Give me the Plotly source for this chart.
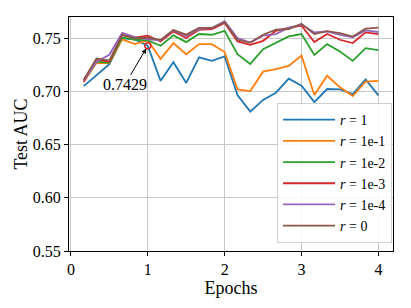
import plotly.graph_objects as go

steps = [k / 6 for k in range(1, 25)]

r_1 = [0.705, 0.715, 0.7256, 0.750, 0.749, 0.7429, 0.710, 0.7275, 0.708, 0.732, 0.7287, 0.733,
       0.6966, 0.681, 0.692, 0.6988, 0.712, 0.7054, 0.690, 0.7023, 0.702, 0.6975, 0.7114, 0.6963]
r_1e1 = [0.709, 0.727, 0.7266, 0.749, 0.7445, 0.748, 0.7306, 0.7455, 0.735, 0.7445, 0.7445, 0.737,
         0.702, 0.7004, 0.7186, 0.7209, 0.724, 0.7337, 0.6966, 0.7148, 0.7039, 0.6957, 0.7092, 0.710]
r_1e2 = [0.711, 0.728, 0.727, 0.7508, 0.7486, 0.748, 0.743, 0.7527, 0.7464, 0.754, 0.7533, 0.757,
         0.7351, 0.7259, 0.7398, 0.746, 0.7517, 0.754, 0.7344, 0.7445, 0.7375, 0.7287, 0.7407, 0.7388]
r_1e3 = [0.709, 0.730, 0.728, 0.7533, 0.7506, 0.7524, 0.747, 0.7564, 0.7502, 0.758, 0.7587, 0.7644,
         0.747, 0.7439, 0.7476, 0.757, 0.7597, 0.7618, 0.7464, 0.754, 0.7486, 0.7455, 0.7555, 0.754]
r_1e4 = [0.710, 0.728, 0.7345, 0.755, 0.751, 0.749, 0.748, 0.7575, 0.7524, 0.7587, 0.7597, 0.766,
         0.7502, 0.746, 0.7524, 0.754, 0.760, 0.7628, 0.7555, 0.7565, 0.7533, 0.751, 0.7574, 0.7559]
r_0 = [0.711, 0.731, 0.729, 0.753, 0.750, 0.7505, 0.7485, 0.7577, 0.7534, 0.7597, 0.7597, 0.765,
       0.7486, 0.746, 0.7533, 0.758, 0.7587, 0.7637, 0.754, 0.7567, 0.7549, 0.7516, 0.759, 0.760]

series = [
    ("<i>r</i> = 1", r_1, "#1f77b4"),
    ("<i>r</i> = 1e-1", r_1e1, "#ff7f0e"),
    ("<i>r</i> = 1e-2", r_1e2, "#2ca02c"),
    ("<i>r</i> = 1e-3", r_1e3, "#d62728"),
    ("<i>r</i> = 1e-4", r_1e4, "#9467bd"),
    ("<i>r</i> = 0", r_0, "#8c564b"),
]

best_x = 1.0
best_y = 0.7429
best_label = "0.7429"

x_ticks = [0, 1, 2, 3, 4]
y_ticks = [0.55, 0.60, 0.65, 0.70, 0.75]

FONT = "Liberation Serif"

fig = go.Figure()
for name, vals, col in series:
    fig.add_trace(go.Scatter(x=steps, y=vals, mode="lines", name=name,
                             line=dict(color=col, width=1.8)))

fig.add_trace(go.Scatter(x=[best_x], y=[best_y], mode="markers", showlegend=False,
                         marker=dict(symbol="circle-open", color="#d62728", size=6,
                                     line=dict(width=1.5, color="#d62728"))))

fig.add_annotation(x=best_x, y=best_y, ax=-23, ay=39, axref="pixel", ayref="pixel",
                   text=best_label, showarrow=True, arrowhead=2, arrowsize=1,
                   arrowwidth=1, arrowcolor="black", standoff=3,
                   font=dict(family=FONT, size=16, color="black"))

axis_common = dict(showline=True, linecolor="black", linewidth=1, mirror=True,
                   showgrid=True, gridcolor="#c8c8c8", gridwidth=1, zeroline=False,
                   ticks="outside", ticklen=4, tickcolor="black", automargin=False,
                   tickfont=dict(family=FONT, size=16, color="black"))

fig.update_xaxes(range=[-0.025, 4.19], tickvals=x_ticks, ticktext=[str(v) for v in x_ticks],
                 title=dict(text="Epochs", font=dict(family=FONT, size=18, color="black"),
                            standoff=0), **axis_common)
fig.update_yaxes(range=[0.55, 0.77], tickvals=y_ticks, ticktext=[f"{v:.2f}" for v in y_ticks],
                 title=dict(text="Test AUC", font=dict(family=FONT, size=18, color="black"),
                            standoff=0), **axis_common)

# page body has an 8px default margin, so the figure is sized to fit the 411x308 window
fig.update_layout(
    width=403, height=300,
    margin=dict(l=61, r=18, t=9, b=57),
    paper_bgcolor="white", plot_bgcolor="white",
    legend=dict(x=0.997, y=0.034, xanchor="right", yanchor="bottom",
                bgcolor="rgba(255,255,255,0.85)", bordercolor="#d0d0d0", borderwidth=1,
                font=dict(family=FONT, size=14, color="black"),
                itemwidth=52, tracegroupgap=0),
    showlegend=True,
)

fig.write_html("out.html")
